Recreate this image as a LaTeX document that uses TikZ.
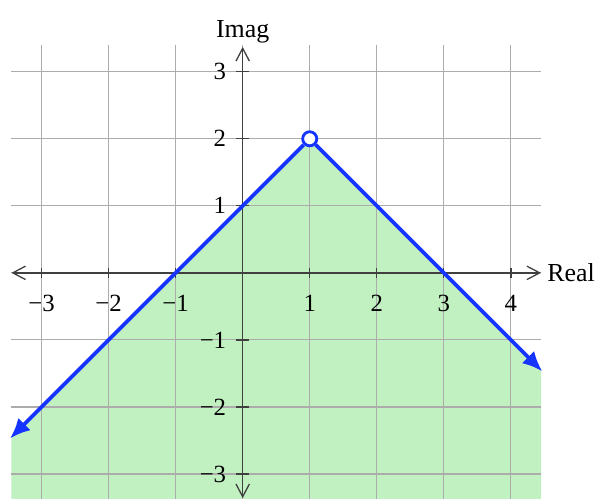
\documentclass[tikz,border=0pt]{standalone}
\usepackage{fontspec}
\setmainfont{Liberation Serif}
\usetikzlibrary{arrows.meta}
\definecolor{regiongreen}{RGB}{193,240,193}
\definecolor{boundblue}{RGB}{22,52,255}
\tikzset{
  gridline/.style={draw=gray!65,line width=0.5pt},
  axisline/.style={draw=black!75,line width=0.55pt},
  bound/.style={draw=boundblue,line width=1.6pt,-{Latex[length=3mm,width=2.6mm]}},
  ticklabel/.style={font=\fontsize{10.5}{12}\selectfont,inner sep=2pt},
  axislabel/.style={font=\fontsize{11}{13}\selectfont}
}
\begin{document}
\begin{tikzpicture}[x=1cm,y=1cm]
\useasboundingbox (-3.62,-3.37) rectangle (5.27,4.07);
\fill[regiongreen] (-3.45,-2.45) -- (1,2) -- (4.45,-1.45) -- (4.45,-3.4) -- (-3.45,-3.4) -- cycle;
\draw[gridline] (-3.45,-3.4) grid (4.45,3.4);
\coordinate (xmin) at (-3.45,0);
\coordinate (xmax) at (4.45,0);
\coordinate (ymin) at (0,-3.36);
\coordinate (ymax) at (0,3.37);
\draw[axisline,{Straight Barb[length=1.9mm,width=2mm]}-{Straight Barb[length=1.9mm,width=2mm]}] (xmin) -- (xmax);
\draw[axisline,{Straight Barb[length=1.9mm,width=2mm]}-{Straight Barb[length=1.9mm,width=2mm]}] (ymin) -- (ymax);
\node[axislabel,right,inner sep=2.5pt] (real) at (xmax) {Real};
\node[axislabel,above,inner sep=1.5pt] (imag) at (ymax) {Imag};
\foreach \x/\lab in {-3/−3,-2/−2,-1/−1,1/1,2/2,3/3,4/4} {
  \draw[axisline] (\x,0.08) -- (\x,-0.08);
  \node[ticklabel,below] (xl\x) at (\x,-0.25) {\lab};
}
\foreach \y/\lab in {-3/−3,-2/−2,-1/−1,1/1,2/2,3/3} {
  \draw[axisline] (0.1,\y) -- (-0.1,\y);
  \node[ticklabel,left] (yl\y) at (-0.17,\y) {\lab};
}
\coordinate (leftend) at (-3.47,-2.47);
\coordinate (rightend) at (4.47,-1.47);
\node[circle,draw=boundblue,fill=white,line width=1.2pt,inner sep=0pt,minimum size=0.21cm] (peak) at (1,2) {};
\draw[bound] (peak) -- (leftend);
\draw[bound] (peak) -- (rightend);
\end{tikzpicture}
\end{document}
